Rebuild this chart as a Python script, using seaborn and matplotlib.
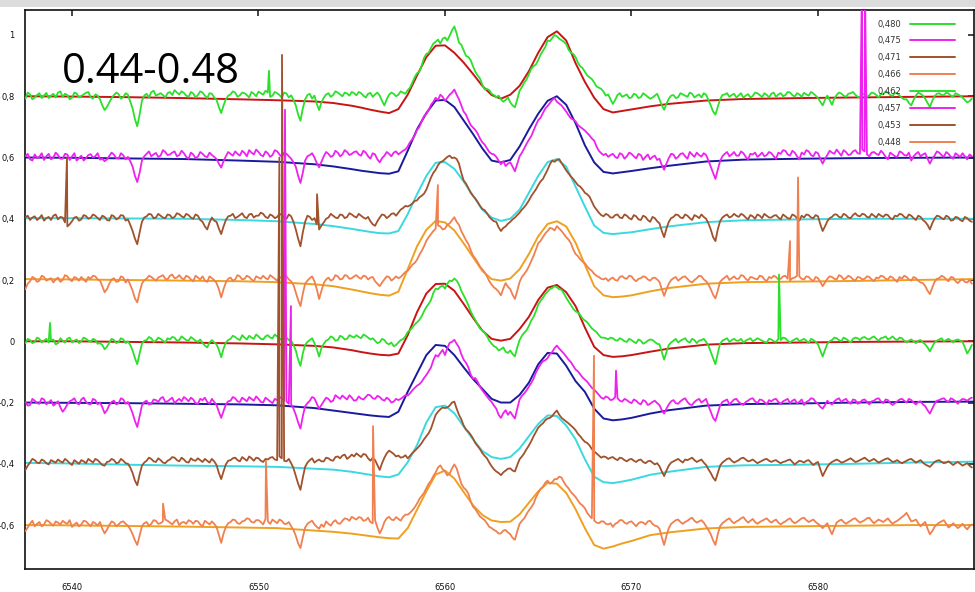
import numpy as np
import pandas as pd
import matplotlib
matplotlib.use("Agg")
import matplotlib.pyplot as plt
from matplotlib.lines import Line2D
from matplotlib.patches import Rectangle
import seaborn as sns

# ---------------- data ----------------
LABELS = ["0,480", "0,475", "0,471", "0,466", "0,462", "0,457", "0,453", "0,448"]
OFFSETS = [0.8, 0.6, 0.4, 0.2, 0.0, -0.2, -0.4, -0.6]
OBS_COLORS = ["#2be02b", "#ee22ee", "#a0522d", "#f08050",
              "#2be02b", "#ee22ee", "#a0522d", "#f08050"]
MOD_COLORS = ["#c81414", "#1a1a9c", "#3ad8e0", "#f0a020",
              "#c81414", "#1a1a9c", "#3ad8e0", "#f0a020"]

X_TICKS = [6540, 6550, 6560, 6570, 6580]
Y_TICKS = [-0.6, -0.4, -0.2, 0, 0.2, 0.4, 0.6, 0.8, 1]
Y_TICK_LABELS = ["-0,6", "-0,4", "-0,2", "0", "0,2", "0,4", "0,6", "0,8", "1"]

# observed spectra: samples every 0.25 A from 6537.5 A, plus the samples lying
# halfway between them (from 6537.625 A); flux relative to the stacking offset
OBS_WAVE = np.arange(6537.5, 6588.3, 0.25)
MID_WAVE = np.arange(6537.625, 6588.2, 0.25)

OBS_480 = [
    -0.008, 0.006, -0.004, 0.010, 0.002, -0.006, 0.008, 0.012, -0.002, 0.004, -0.005, 0.009, 0.001, 0.011, -0.003, 0.006, -0.010, -0.045, -0.020, 0.004,
    0.007, -0.003, 0.005, -0.040, -0.098, -0.015, 0.008, 0.013, 0.002, 0.010, -0.004, 0.014, 0.020, 0.006, 0.011, -0.002, 0.009, 0.004, 0.012, -0.006,
    0.008, -0.012, -0.055, -0.010, 0.006, 0.012, 0.003, 0.010, -0.004, 0.008, 0.015, 0.005, 0.012, 0.002, 0.010, -0.005, 0.009, 0.003, -0.030, -0.080,
    -0.010, 0.008, 0.002, -0.045, -0.005, 0.010, 0.004, 0.012, 0.000, 0.009, 0.014, 0.003, 0.010, -0.004, 0.011, 0.006, 0.002, -0.030, 0.005, 0.008,
    0.005, 0.012, 0.020, 0.045, 0.075, 0.100, 0.138, 0.158, 0.178, 0.172, 0.192, 0.198, 0.228, 0.175, 0.150, 0.128, 0.098, 0.068, 0.038, 0.024,
    0.008, -0.004, -0.010, -0.012, -0.020, -0.036, 0.018, 0.045, 0.072, 0.098, 0.118, 0.148, 0.182, 0.190, 0.196, 0.183, 0.170, 0.142, 0.128, 0.098,
    0.080, 0.062, 0.045, 0.028, 0.015, 0.006, -0.025, 0.004, -0.002, 0.006, -0.004, 0.005, -0.003, 0.004, -0.008, 0.002, -0.010, -0.044, -0.008, 0.004,
    -0.003, 0.006, -0.002, 0.008, 0.002, -0.004, 0.005, -0.030, -0.060, -0.010, 0.006, -0.002, 0.008, 0.003, -0.005, 0.007, 0.001, 0.010, -0.003, 0.005,
    0.008, -0.002, 0.010, 0.004, 0.012, -0.001, 0.006, 0.011, 0.002, 0.009, -0.006, -0.030, 0.002, -0.028, 0.004, 0.009, -0.002, 0.010, 0.005, -0.003,
    0.008, 0.003, 0.010, -0.004, 0.006, 0.012, 0.001, 0.009, -0.005, -0.010, -0.030, 0.002, 0.008, -0.008, -0.035, 0.000, 0.010, 0.004, 0.009, -0.002,
    0.006, -0.004, -0.020, -0.008]
MID_480 = [
    0.012, -0.010, 0.004, -0.006, 0.011, 0.002, -0.004, 0.016, 0.008, -0.010, 0.012, -0.004, 0.006, 0.014, -0.008, 0.002, -0.030, -0.035, -0.006, 0.012,
    -0.008, 0.010, -0.018, -0.075, -0.060, 0.002, -0.004, 0.018, 0.006, 0.004, 0.010, 0.004, 0.012, 0.016, 0.002, 0.014, -0.004, 0.016, 0.002, 0.010,
    -0.004, -0.035, -0.030, 0.002, 0.016, -0.002, 0.012, 0.004, 0.014, 0.000, 0.010, 0.018, -0.002, 0.014, 0.004, 0.012, -0.004, -0.012, -0.060, -0.040,
    0.004, -0.008, -0.025, -0.020, 0.006, -0.002, 0.016, 0.006, 0.012, 0.002, 0.010, 0.014, 0.002, 0.008, -0.002, 0.012, -0.015, -0.010, 0.012, 0.000,
    0.016, 0.008, 0.028, 0.062, 0.080, 0.125, 0.142, 0.172, 0.185, 0.188, 0.182, 0.215, 0.205, 0.168, 0.132, 0.118, 0.080, 0.058, 0.022, 0.020,
    0.004, 0.002, -0.018, -0.004, -0.030, -0.010, 0.030, 0.055, 0.090, 0.104, 0.136, 0.160, 0.180, 0.200, 0.188, 0.178, 0.152, 0.138, 0.110, 0.092,
    0.068, 0.056, 0.032, 0.024, 0.002, -0.010, -0.012, 0.010, 0.002, -0.006, 0.008, -0.006, 0.010, -0.002, -0.004, 0.008, -0.030, -0.025, 0.002, -0.006,
    0.010, 0.002, 0.012, -0.004, 0.006, 0.010, -0.012, -0.050, -0.035, 0.004, 0.010, 0.004, -0.004, 0.010, 0.002, -0.004, 0.012, 0.004, 0.010, -0.004,
    0.012, 0.006, 0.000, 0.014, 0.004, 0.010, -0.002, 0.006, 0.014, 0.002, -0.018, -0.012, -0.012, -0.008, 0.012, 0.002, 0.008, 0.014, -0.002, 0.006,
    -0.002, 0.012, 0.004, 0.008, 0.016, 0.004, 0.012, 0.002, -0.010, -0.022, -0.012, 0.012, 0.002, -0.022, -0.015, 0.008, 0.004, 0.012, 0.002, 0.010,
    0.002, -0.012, -0.016]

OBS_475 = [
    0.004, -0.006, 0.010, 0.002, -0.008, 0.012, 0.000, 0.008, -0.004, 0.010, 0.003, -0.010, 0.006, -0.002, 0.011, 0.004, -0.007, -0.012, 0.005, 0.009,
    -0.003, 0.007, 0.002, -0.030, -0.080, -0.010, 0.012, 0.004, 0.015, 0.006, 0.018, 0.010, 0.020, 0.008, 0.014, -0.004, 0.010, 0.003, 0.012, 0.001,
    0.008, -0.005, -0.033, 0.004, 0.012, 0.020, 0.006, 0.015, 0.024, 0.010, 0.018, 0.004, 0.014, 0.008, 0.020, 0.002, 0.012, -0.004, -0.030, -0.083,
    -0.010, 0.008, 0.000, -0.032, 0.004, 0.012, 0.006, 0.016, 0.010, 0.018, 0.012, 0.020, 0.006, 0.016, -0.004, 0.010, -0.016, 0.006, 0.012, 0.016,
    0.010, 0.022, 0.036, 0.060, 0.090, 0.118, 0.142, 0.172, 0.195, 0.205, 0.185, 0.205, 0.222, 0.190, 0.150, 0.122, 0.098, 0.078, 0.050, 0.030,
    0.012, 0.002, -0.022, -0.028, -0.016, -0.045, 0.004, 0.030, 0.058, 0.088, 0.122, 0.145, 0.168, 0.188, 0.182, 0.170, 0.150, 0.128, 0.118, 0.100,
    0.088, 0.072, 0.055, 0.022, 0.008, 0.002, 0.012, -0.002, 0.010, 0.004, 0.012, -0.003, 0.008, 0.002, -0.006, 0.006, -0.004, -0.040, -0.002, 0.010,
    0.002, 0.014, -0.004, 0.010, 0.016, 0.003, 0.008, -0.030, -0.070, -0.012, 0.012, 0.004, 0.018, 0.006, 0.014, -0.006, 0.010, 0.002, 0.016, 0.008,
    0.014, -0.004, 0.012, 0.022, 0.006, 0.016, -0.006, 0.010, 0.020, 0.004, 0.014, -0.020, 0.008, 0.016, 0.026, 0.006, 0.018, 0.010, 0.024, 0.012,
    0.020, 0.004, 0.018, 0.008, 0.014, -0.006, 0.010, 0.002, 0.016, 0.006, -0.010, 0.012, 0.004, 0.014, -0.020, 0.006, 0.016, 0.002, 0.012, -0.004,
    0.008, 0.014, -0.006, 0.004]
MID_475 = [
    0.012, -0.010, -0.002, 0.014, 0.004, -0.006, 0.016, -0.004, 0.012, -0.008, 0.014, -0.002, -0.010, 0.008, 0.000, 0.014, -0.004, -0.006, 0.016, -0.002,
    0.014, -0.006, -0.012, -0.060, -0.050, 0.004, 0.020, 0.010, 0.002, 0.024, 0.008, 0.016, 0.004, 0.022, 0.002, 0.016, -0.002, 0.018, 0.004, 0.016,
    0.002, -0.020, -0.012, 0.018, 0.006, 0.012, 0.022, 0.004, 0.016, 0.026, 0.008, 0.020, 0.002, 0.024, 0.010, 0.016, 0.004, -0.016, -0.060, -0.050,
    0.004, 0.014, -0.018, -0.014, 0.018, 0.002, 0.022, 0.004, 0.024, 0.008, 0.018, 0.010, 0.022, 0.004, 0.014, -0.006, -0.002, 0.018, 0.004, 0.020,
    0.016, 0.026, 0.050, 0.072, 0.100, 0.135, 0.155, 0.182, 0.188, 0.198, 0.195, 0.212, 0.205, 0.170, 0.140, 0.106, 0.090, 0.062, 0.042, 0.018,
    0.010, -0.010, -0.012, -0.020, -0.030, -0.020, 0.016, 0.045, 0.070, 0.106, 0.130, 0.160, 0.178, 0.194, 0.176, 0.160, 0.138, 0.124, 0.106, 0.094,
    0.080, 0.062, 0.036, 0.014, 0.012, 0.008, 0.002, 0.014, -0.004, 0.016, 0.004, 0.012, -0.008, 0.010, 0.002, -0.008, -0.025, -0.020, 0.012, -0.004,
    0.012, 0.004, 0.018, 0.002, 0.008, 0.014, -0.010, -0.050, -0.040, 0.004, 0.018, 0.010, 0.006, 0.020, 0.002, 0.012, 0.016, 0.008, 0.004, 0.018,
    0.004, 0.016, 0.024, 0.010, 0.022, 0.004, 0.016, 0.024, 0.008, 0.018, -0.004, -0.004, 0.022, 0.012, 0.016, 0.024, 0.008, 0.020, 0.014, 0.026,
    0.010, 0.016, 0.012, 0.022, 0.002, 0.016, 0.004, 0.020, 0.008, 0.016, 0.004, 0.018, 0.010, -0.004, -0.004, 0.020, 0.008, 0.018, 0.002, 0.014,
    0.002, 0.004, 0.010]

OBS_471 = [
    0.004, -0.004, 0.008, 0.002, -0.006, 0.006, 0.010, -0.002, 0.004, -0.025, -0.008, 0.006, -0.002, 0.009, 0.003, 0.010, -0.004, 0.006, -0.006, 0.008,
    0.002, 0.010, -0.002, -0.040, -0.083, -0.010, 0.008, 0.014, 0.004, 0.010, 0.002, 0.012, 0.006, 0.015, 0.004, 0.012, 0.000, 0.010, -0.010, -0.035,
    0.004, -0.010, -0.050, -0.004, 0.010, 0.002, 0.012, 0.006, 0.014, 0.004, 0.010, 0.016, 0.002, 0.010, 0.006, 0.012, 0.000, 0.008, -0.035, -0.090,
    -0.010, 0.006, 0.002, -0.035, -0.012, 0.004, 0.010, 0.002, 0.012, 0.006, 0.014, 0.004, 0.010, 0.000, -0.008, -0.023, 0.004, 0.012, 0.008, 0.018,
    0.020, 0.035, 0.040, 0.050, 0.060, 0.075, 0.095, 0.135, 0.160, 0.185, 0.195, 0.206, 0.200, 0.180, 0.125, 0.100, 0.075, 0.055, 0.032, 0.018,
    -0.002, -0.010, -0.040, -0.025, -0.010, 0.004, 0.020, 0.038, 0.060, 0.085, 0.110, 0.130, 0.160, 0.190, 0.192, 0.182, 0.158, 0.138, 0.120, 0.105,
    0.085, 0.072, 0.040, 0.020, 0.008, 0.012, 0.004, 0.014, 0.002, 0.010, -0.002, 0.008, -0.004, 0.006, -0.010, 0.002, -0.015, -0.060, -0.010, 0.006,
    0.012, 0.002, 0.010, -0.004, 0.008, 0.014, 0.000, -0.035, -0.073, -0.008, 0.010, 0.004, 0.016, 0.006, 0.012, -0.002, 0.008, 0.014, 0.002, 0.010,
    0.004, 0.012, -0.002, 0.008, 0.000, 0.010, -0.006, 0.004, 0.012, 0.002, 0.008, -0.040, -0.008, 0.006, 0.014, 0.004, 0.012, 0.002, 0.018, 0.008,
    0.014, 0.004, 0.010, 0.016, 0.006, 0.012, -0.002, 0.008, 0.014, 0.002, 0.010, -0.004, 0.006, -0.010, -0.035, 0.000, 0.008, -0.002, 0.006, -0.004,
    0.004, -0.008, 0.002, -0.010]
MID_471 = [
    0.010, 0.004, -0.004, 0.012, 0.002, -0.004, 0.014, 0.006, -0.012, -0.018, 0.004, -0.006, 0.012, 0.000, 0.014, 0.002, 0.010, -0.004, 0.012, -0.002,
    0.012, -0.006, -0.020, -0.065, -0.045, 0.004, 0.016, 0.002, 0.016, 0.004, 0.014, 0.002, 0.018, 0.008, 0.016, 0.004, 0.014, -0.004, -0.025, -0.012,
    -0.006, -0.032, -0.025, 0.008, 0.016, 0.006, 0.018, 0.002, 0.016, 0.010, 0.020, 0.006, 0.014, 0.002, 0.016, 0.004, 0.014, -0.010, -0.065, -0.045,
    0.010, -0.004, -0.018, -0.022, 0.000, 0.016, 0.004, 0.014, 0.002, 0.018, 0.008, 0.016, 0.004, 0.006, -0.018, -0.008, 0.014, 0.002, 0.016, 0.010,
    0.030, 0.042, 0.044, 0.058, 0.070, 0.082, 0.115, 0.150, 0.175, 0.188, 0.202, 0.198, 0.195, 0.150, 0.115, 0.085, 0.066, 0.042, 0.028, 0.006,
    -0.008, -0.028, -0.030, -0.016, -0.002, 0.012, 0.030, 0.048, 0.074, 0.096, 0.122, 0.145, 0.178, 0.186, 0.195, 0.170, 0.148, 0.130, 0.110, 0.096,
    0.080, 0.056, 0.030, 0.012, 0.016, 0.004, 0.012, 0.004, 0.014, 0.002, 0.012, -0.002, 0.010, -0.004, 0.006, -0.008, -0.040, -0.032, 0.002, 0.014,
    0.004, 0.014, 0.002, 0.012, 0.002, 0.006, -0.015, -0.060, -0.035, 0.004, 0.014, 0.008, 0.010, 0.016, 0.004, 0.012, 0.000, 0.010, 0.016, 0.004,
    0.010, 0.004, 0.014, 0.002, 0.014, 0.002, 0.010, 0.014, 0.004, 0.012, -0.018, -0.025, 0.002, 0.014, 0.006, 0.016, 0.004, 0.012, 0.010, 0.016,
    0.006, 0.016, 0.004, 0.010, 0.014, 0.002, 0.010, 0.016, 0.006, 0.014, 0.002, 0.010, -0.004, -0.020, -0.015, 0.010, 0.002, 0.010, -0.006, 0.006,
    -0.004, 0.006, -0.006]

OBS_466 = [
    -0.030, -0.004, 0.006, -0.002, 0.010, 0.002, -0.008, 0.008, 0.000, 0.012, -0.004, 0.006, 0.010, -0.006, 0.004, 0.012, -0.002, -0.040, -0.012, 0.006,
    -0.004, 0.008, 0.002, -0.035, -0.073, -0.012, 0.004, 0.010, -0.002, 0.012, 0.004, 0.014, 0.006, 0.016, 0.002, 0.010, -0.004, 0.008, 0.012, -0.006,
    0.006, -0.010, -0.057, -0.008, 0.008, 0.002, 0.012, 0.004, 0.010, -0.004, 0.008, 0.014, 0.002, 0.010, -0.002, 0.006, 0.012, -0.004, -0.040, -0.085,
    -0.012, 0.006, -0.004, -0.062, -0.010, 0.008, 0.002, 0.012, 0.004, 0.014, 0.006, 0.016, 0.004, 0.012, 0.008, -0.004, -0.020, 0.002, 0.010, 0.004,
    0.006, 0.018, 0.030, 0.050, 0.066, 0.095, 0.128, 0.150, 0.168, 0.175, 0.168, 0.185, 0.205, 0.180, 0.145, 0.118, 0.080, 0.058, 0.035, 0.012,
    -0.015, -0.030, -0.050, -0.010, -0.030, -0.062, -0.006, 0.020, 0.045, 0.079, 0.120, 0.140, 0.160, 0.168, 0.176, 0.160, 0.140, 0.120, 0.085, 0.068,
    0.055, 0.036, 0.020, 0.010, 0.002, -0.003, 0.008, -0.002, 0.013, 0.004, 0.012, -0.004, 0.006, 0.010, -0.002, 0.008, -0.006, -0.052, -0.012, 0.006,
    -0.002, 0.010, 0.004, -0.008, 0.006, 0.012, -0.004, -0.030, -0.060, -0.006, 0.008, 0.000, 0.012, 0.004, 0.014, -0.002, 0.008, 0.002, 0.012, -0.004,
    0.006, 0.010, 0.004, 0.014, -0.002, 0.008, 0.012, 0.002, 0.010, -0.004, 0.006, -0.020, 0.004, 0.010, 0.002, 0.012, 0.006, 0.010, -0.002, 0.008,
    0.004, 0.010, -0.004, 0.006, 0.012, 0.002, 0.008, -0.006, 0.004, 0.010, -0.002, 0.006, -0.008, -0.020, -0.046, -0.006, 0.006, 0.010, -0.004, 0.008,
    -0.010, 0.002, -0.008, -0.012]
MID_466 = [
    -0.012, 0.010, -0.006, 0.014, -0.002, 0.006, 0.002, -0.006, 0.016, 0.002, 0.010, -0.002, 0.002, 0.010, 0.014, 0.002, -0.020, -0.030, 0.002, -0.006,
    0.012, -0.008, -0.016, -0.060, -0.040, 0.000, 0.014, 0.004, 0.008, 0.016, 0.002, 0.018, 0.008, 0.006, 0.014, 0.002, 0.014, 0.002, -0.002, 0.012,
    0.000, -0.030, -0.030, 0.004, -0.002, 0.016, 0.002, 0.014, 0.002, 0.012, 0.004, 0.006, 0.016, 0.004, 0.010, 0.016, 0.002, -0.016, -0.065, -0.045,
    -0.002, 0.012, -0.030, -0.035, 0.002, -0.002, 0.016, 0.002, 0.016, 0.004, 0.012, 0.008, 0.014, 0.002, 0.010, -0.012, -0.008, 0.012, -0.002, 0.012,
    0.010, 0.026, 0.040, 0.056, 0.082, 0.110, 0.140, 0.160, 0.178, 0.165, 0.180, 0.195, 0.190, 0.160, 0.130, 0.098, 0.070, 0.044, 0.025, -0.004,
    -0.024, -0.038, -0.028, -0.022, -0.048, -0.035, 0.010, 0.030, 0.062, 0.100, 0.128, 0.152, 0.170, 0.162, 0.168, 0.150, 0.132, 0.100, 0.078, 0.060,
    0.044, 0.030, 0.014, 0.004, 0.006, 0.004, 0.000, 0.010, 0.006, 0.014, 0.002, 0.004, 0.012, 0.002, 0.006, 0.002, -0.030, -0.030, 0.000, 0.010,
    0.004, 0.012, -0.004, 0.000, 0.014, 0.002, -0.014, -0.048, -0.035, 0.002, 0.014, 0.006, 0.004, 0.016, 0.004, 0.010, 0.004, 0.014, 0.002, 0.010,
    0.014, 0.002, 0.012, 0.004, 0.006, 0.014, 0.004, 0.012, 0.002, 0.010, -0.006, -0.008, 0.012, 0.004, 0.016, 0.002, 0.014, 0.002, 0.010, 0.002,
    0.012, 0.002, 0.008, 0.014, 0.004, 0.012, 0.000, 0.010, 0.014, 0.002, 0.010, -0.002, -0.010, -0.035, -0.025, 0.004, 0.014, 0.002, 0.010, -0.004,
    -0.002, -0.006, 0.000]

OBS_462 = [
    -0.006, 0.004, -0.002, 0.008, 0.002, -0.004, 0.006, -0.006, 0.002, 0.008, -0.004, 0.006, 0.000, 0.008, -0.002, 0.004, -0.006, -0.026, -0.004, 0.004,
    -0.002, 0.006, 0.000, -0.030, -0.075, -0.008, 0.004, 0.010, 0.002, 0.008, -0.004, 0.006, 0.012, 0.004, 0.010, 0.002, 0.008, -0.002, -0.006, -0.020,
    0.004, -0.010, -0.052, -0.004, 0.008, 0.014, 0.004, 0.012, 0.018, 0.008, 0.016, 0.006, 0.020, 0.010, 0.016, 0.006, 0.012, 0.002, -0.030, -0.080,
    -0.012, 0.004, -0.006, -0.050, -0.008, 0.006, 0.012, 0.004, 0.014, 0.008, 0.016, 0.020, 0.010, 0.018, 0.006, 0.002, -0.003, 0.004, -0.010, -0.016,
    -0.004, 0.007, 0.030, 0.045, 0.062, 0.082, 0.112, 0.135, 0.172, 0.178, 0.172, 0.198, 0.205, 0.185, 0.150, 0.118, 0.083, 0.055, 0.035, 0.017,
    -0.008, -0.020, -0.026, -0.034, -0.030, -0.049, 0.004, 0.028, 0.050, 0.080, 0.120, 0.142, 0.162, 0.174, 0.176, 0.168, 0.142, 0.118, 0.098, 0.086,
    0.068, 0.052, 0.036, 0.020, 0.012, 0.006, 0.010, 0.002, 0.006, -0.002, 0.004, -0.006, 0.002, -0.004, 0.006, -0.002, -0.010, -0.060, -0.012, 0.002,
    -0.004, 0.006, 0.000, 0.008, -0.006, 0.004, -0.002, -0.035, -0.075, -0.008, 0.006, -0.002, 0.008, 0.002, -0.004, 0.006, 0.000, 0.010, 0.002, -0.004,
    0.006, -0.002, 0.004, 0.010, -0.004, 0.006, 0.000, 0.008, -0.006, 0.004, -0.010, -0.050, -0.008, 0.004, 0.010, 0.000, 0.008, -0.004, 0.012, 0.004,
    0.014, 0.006, 0.016, 0.002, 0.012, 0.006, 0.016, 0.004, 0.010, -0.004, 0.006, -0.006, 0.004, -0.010, -0.033, -0.004, 0.006, 0.000, 0.008, -0.004,
    0.006, -0.002, -0.040, -0.012]
MID_462 = [
    0.008, -0.006, 0.012, -0.004, 0.008, 0.002, -0.010, 0.010, -0.004, 0.012, 0.002, -0.006, 0.012, 0.002, 0.008, -0.008, -0.012, -0.018, 0.008, -0.006,
    0.010, -0.006, -0.012, -0.055, -0.040, 0.002, 0.014, -0.002, 0.012, 0.002, 0.010, 0.014, 0.002, 0.016, 0.004, 0.014, 0.002, 0.006, -0.014, -0.004,
    -0.004, -0.028, -0.024, 0.004, 0.018, 0.008, 0.020, 0.006, 0.012, 0.022, 0.008, 0.016, 0.012, 0.022, 0.008, 0.018, 0.004, -0.012, -0.060, -0.040,
    -0.002, 0.010, -0.025, -0.022, 0.002, 0.016, 0.002, 0.018, 0.006, 0.020, 0.012, 0.014, 0.022, 0.012, 0.010, -0.006, 0.008, -0.006, -0.004, -0.012,
    0.004, 0.016, 0.036, 0.055, 0.070, 0.098, 0.122, 0.158, 0.170, 0.182, 0.188, 0.196, 0.198, 0.165, 0.135, 0.098, 0.070, 0.042, 0.028, 0.002,
    -0.016, -0.030, -0.020, -0.038, -0.042, -0.020, 0.018, 0.036, 0.068, 0.098, 0.132, 0.154, 0.170, 0.180, 0.170, 0.156, 0.130, 0.106, 0.094, 0.074,
    0.062, 0.042, 0.030, 0.012, 0.010, 0.012, 0.004, 0.010, 0.000, 0.008, -0.002, 0.006, -0.008, 0.002, 0.004, -0.008, -0.035, -0.035, -0.004, 0.008,
    0.002, 0.010, -0.004, 0.004, 0.002, 0.008, -0.014, -0.055, -0.040, 0.002, 0.010, 0.004, 0.002, 0.008, 0.002, 0.010, 0.004, 0.006, -0.002, 0.008,
    0.000, 0.008, 0.012, 0.002, 0.002, 0.010, 0.004, 0.002, 0.008, -0.002, -0.030, -0.028, 0.000, 0.012, 0.004, 0.012, 0.002, 0.008, 0.010, 0.012,
    0.008, 0.012, 0.008, 0.010, 0.016, 0.010, 0.008, 0.012, 0.002, 0.002, 0.000, 0.002, -0.004, -0.020, -0.018, 0.002, 0.010, 0.004, 0.002, 0.004,
    0.002, -0.020, -0.028]

OBS_457 = [
    0.002, -0.008, 0.006, -0.004, 0.010, 0.000, -0.010, 0.004, -0.030, -0.006, 0.008, -0.002, 0.010, 0.002, -0.006, 0.008, 0.000, -0.035, -0.008, 0.006,
    -0.002, 0.010, 0.002, -0.035, -0.080, -0.010, 0.006, -0.004, 0.008, 0.014, 0.002, 0.010, -0.002, 0.012, 0.018, 0.004, 0.010, -0.004, 0.008, 0.002,
    0.012, -0.008, -0.050, -0.006, 0.006, 0.014, 0.002, 0.010, 0.018, 0.006, 0.012, 0.000, 0.010, -0.002, 0.008, 0.014, 0.004, -0.006, -0.040, -0.085,
    -0.012, 0.006, 0.014, -0.020, 0.004, 0.012, 0.006, 0.018, 0.023, 0.010, 0.016, 0.008, 0.013, 0.018, 0.023, 0.012, 0.018, 0.006, 0.010, 0.003,
    0.008, 0.018, 0.023, 0.040, 0.055, 0.068, 0.090, 0.115, 0.155, 0.162, 0.155, 0.195, 0.205, 0.180, 0.140, 0.115, 0.078, 0.068, 0.040, 0.020,
    0.002, -0.020, -0.050, -0.025, -0.030, -0.052, 0.010, 0.030, 0.052, 0.078, 0.112, 0.135, 0.145, 0.165, 0.186, 0.168, 0.150, 0.132, 0.108, 0.092,
    0.075, 0.058, 0.042, 0.025, 0.012, 0.016, 0.010, 0.014, 0.003, 0.008, -0.002, 0.006, -0.006, 0.004, -0.004, 0.006, -0.008, -0.036, -0.006, 0.008,
    -0.004, 0.010, 0.002, -0.008, 0.008, 0.000, 0.012, -0.030, -0.060, -0.010, 0.006, -0.006, 0.010, 0.002, -0.008, 0.006, 0.014, -0.002, 0.008, -0.006,
    0.004, 0.012, -0.004, 0.008, -0.002, 0.010, 0.002, -0.008, 0.006, 0.012, -0.004, -0.020, 0.006, -0.006, 0.010, 0.002, 0.012, -0.004, 0.008, 0.000,
    0.010, -0.006, 0.006, 0.014, -0.002, 0.008, -0.008, 0.004, 0.012, 0.000, 0.008, -0.006, 0.004, -0.012, -0.036, -0.004, 0.008, 0.014, 0.002, 0.010,
    -0.004, 0.012, 0.006, 0.016]
MID_457 = [
    -0.010, 0.012, -0.002, 0.014, -0.006, 0.008, -0.004, -0.015, -0.020, 0.004, 0.014, -0.006, 0.016, -0.004, 0.012, -0.006, -0.015, -0.025, 0.002, -0.006,
    0.014, -0.004, -0.015, -0.060, -0.045, 0.002, -0.006, 0.010, 0.002, 0.018, 0.004, 0.016, 0.006, 0.004, 0.012, 0.016, -0.002, 0.012, 0.016, -0.004,
    0.002, -0.030, -0.028, 0.004, 0.018, 0.004, 0.016, 0.004, 0.012, 0.020, 0.002, 0.016, 0.004, 0.012, 0.018, 0.006, -0.004, -0.020, -0.065, -0.045,
    -0.002, 0.018, -0.004, -0.008, 0.016, 0.002, 0.024, 0.012, 0.016, 0.024, 0.006, 0.020, 0.010, 0.026, 0.014, 0.022, 0.010, 0.016, 0.000, 0.012,
    0.012, 0.024, 0.030, 0.048, 0.060, 0.080, 0.102, 0.138, 0.150, 0.172, 0.178, 0.198, 0.192, 0.158, 0.130, 0.092, 0.080, 0.052, 0.030, 0.010,
    -0.010, -0.040, -0.035, -0.040, -0.042, -0.020, 0.022, 0.040, 0.064, 0.098, 0.125, 0.138, 0.158, 0.178, 0.176, 0.160, 0.140, 0.120, 0.102, 0.082,
    0.068, 0.048, 0.034, 0.016, 0.020, 0.008, 0.018, 0.006, 0.012, 0.002, 0.010, -0.002, 0.008, -0.008, 0.002, -0.002, -0.025, -0.020, 0.004, -0.002,
    0.004, 0.014, -0.006, 0.002, 0.012, 0.006, -0.010, -0.050, -0.035, 0.002, 0.010, 0.002, 0.012, -0.004, 0.002, 0.012, 0.004, 0.010, 0.002, 0.008,
    0.010, 0.002, 0.004, 0.012, 0.006, -0.002, 0.010, 0.002, 0.014, 0.002, -0.014, -0.008, -0.002, 0.004, 0.014, 0.008, 0.002, 0.010, -0.004, 0.008,
    0.002, 0.004, 0.012, 0.004, 0.010, -0.002, -0.002, 0.010, 0.006, 0.012, 0.000, 0.002, -0.006, -0.025, -0.020, 0.006, 0.012, 0.006, 0.014, 0.004,
    0.006, 0.010, 0.012]

OBS_453 = [
    -0.020, 0.004, 0.012, 0.002, 0.010, -0.002, 0.008, 0.014, 0.004, 0.010, -0.004, 0.006, 0.012, 0.002, 0.010, 0.016, 0.004, -0.006, 0.008, 0.012,
    0.004, 0.010, 0.000, -0.030, -0.070, -0.006, 0.010, 0.016, 0.006, 0.012, 0.002, 0.014, 0.020, 0.008, 0.014, 0.004, 0.012, 0.018, 0.006, 0.010,
    0.016, -0.004, -0.050, -0.002, 0.012, 0.020, 0.008, 0.016, 0.024, 0.010, 0.018, 0.006, 0.014, 0.022, 0.012, 0.018, 0.008, 0.002, -0.040, -0.085,
    -0.010, 0.012, 0.004, 0.014, 0.008, 0.018, 0.010, 0.024, 0.027, 0.016, 0.030, 0.034, 0.022, 0.030, 0.010, 0.012, -0.020, 0.020, 0.043, 0.032,
    0.027, 0.022, 0.018, 0.035, 0.050, 0.068, 0.090, 0.115, 0.160, 0.178, 0.182, 0.190, 0.203, 0.160, 0.125, 0.105, 0.083, 0.058, 0.035, 0.018,
    -0.008, -0.025, -0.037, -0.022, -0.015, -0.025, 0.015, 0.035, 0.060, 0.090, 0.118, 0.132, 0.148, 0.156, 0.174, 0.150, 0.138, 0.125, 0.110, 0.090,
    0.072, 0.060, 0.040, 0.027, 0.024, 0.016, 0.022, 0.012, 0.018, 0.008, 0.016, 0.006, 0.014, 0.002, 0.010, -0.002, -0.008, -0.040, -0.006, 0.008,
    0.016, 0.004, 0.012, 0.020, 0.006, 0.014, -0.004, -0.030, -0.055, -0.006, 0.010, 0.018, 0.004, 0.012, 0.020, 0.008, 0.014, 0.002, 0.010, 0.016,
    0.006, 0.012, 0.002, 0.008, 0.014, -0.002, 0.010, 0.004, 0.012, -0.004, 0.006, -0.040, -0.010, 0.006, 0.014, 0.004, 0.010, 0.018, 0.006, 0.012,
    0.020, 0.008, 0.016, 0.004, 0.012, 0.018, 0.006, 0.012, 0.002, 0.010, 0.016, 0.004, 0.012, -0.002, -0.010, 0.006, 0.012, 0.002, 0.008, -0.004,
    0.006, -0.006, 0.002, -0.012]
MID_453 = [
    -0.006, 0.016, 0.004, 0.014, 0.002, 0.012, 0.004, 0.008, 0.016, 0.002, 0.012, 0.000, 0.008, 0.016, 0.004, 0.012, -0.004, 0.006, 0.016, 0.002,
    0.016, 0.002, -0.012, -0.055, -0.035, 0.004, 0.020, 0.008, 0.018, 0.004, 0.010, 0.022, 0.012, 0.020, 0.006, 0.018, 0.010, 0.012, 0.016, 0.004,
    0.008, -0.030, -0.025, 0.010, 0.018, 0.012, 0.022, 0.010, 0.018, 0.020, 0.010, 0.016, 0.020, 0.014, 0.024, 0.010, 0.016, -0.014, -0.065, -0.045,
    0.004, 0.018, 0.010, 0.008, 0.020, 0.012, 0.022, 0.018, 0.030, 0.022, 0.024, 0.028, 0.032, 0.018, 0.020, -0.004, 0.002, 0.034, 0.038, 0.024,
    0.020, 0.028, 0.026, 0.042, 0.058, 0.080, 0.100, 0.138, 0.170, 0.184, 0.184, 0.200, 0.180, 0.145, 0.112, 0.095, 0.068, 0.048, 0.026, 0.004,
    -0.018, -0.030, -0.028, -0.016, -0.022, -0.004, 0.024, 0.048, 0.074, 0.104, 0.126, 0.142, 0.150, 0.166, 0.160, 0.144, 0.132, 0.118, 0.098, 0.080,
    0.068, 0.048, 0.034, 0.020, 0.022, 0.020, 0.016, 0.020, 0.012, 0.014, 0.010, 0.012, 0.006, 0.008, 0.004, 0.002, -0.025, -0.022, 0.004, 0.012,
    0.010, 0.014, 0.016, 0.012, 0.010, 0.004, -0.018, -0.045, -0.030, 0.004, 0.016, 0.010, 0.008, 0.018, 0.014, 0.010, 0.008, 0.006, 0.014, 0.010,
    0.010, 0.006, 0.006, 0.012, 0.006, 0.004, 0.008, 0.010, 0.004, 0.002, -0.018, -0.025, 0.000, 0.010, 0.010, 0.006, 0.014, 0.012, 0.008, 0.016,
    0.014, 0.012, 0.010, 0.008, 0.016, 0.012, 0.008, 0.006, 0.006, 0.014, 0.010, 0.008, 0.004, -0.006, -0.002, 0.010, 0.006, 0.004, 0.002, 0.002,
    0.000, -0.002, -0.006]

OBS_448 = [
    -0.020, 0.004, -0.004, 0.010, 0.002, 0.012, -0.002, 0.008, 0.014, 0.004, -0.006, 0.008, 0.002, 0.012, -0.004, 0.006, 0.010, -0.027, 0.000, 0.008,
    0.002, 0.012, -0.002, -0.030, -0.065, -0.004, 0.010, 0.004, 0.014, 0.006, 0.018, 0.008, 0.012, 0.000, 0.010, 0.016, 0.004, 0.012, -0.004, 0.008,
    0.012, -0.006, -0.058, -0.006, 0.010, 0.016, 0.004, 0.014, 0.020, 0.008, 0.016, 0.002, 0.012, 0.018, 0.006, 0.014, 0.004, -0.004, -0.035, -0.075,
    -0.008, 0.010, 0.002, -0.012, -0.006, 0.004, 0.010, 0.006, 0.014, 0.020, 0.027, 0.018, 0.024, 0.016, 0.010, 0.016, -0.027, 0.010, 0.027, 0.016,
    0.020, 0.027, 0.034, 0.048, 0.070, 0.095, 0.120, 0.145, 0.172, 0.195, 0.175, 0.168, 0.198, 0.160, 0.122, 0.103, 0.060, 0.040, 0.022, 0.006,
    -0.010, -0.020, -0.027, -0.016, -0.030, -0.048, 0.004, 0.022, 0.048, 0.070, 0.105, 0.125, 0.145, 0.140, 0.150, 0.155, 0.128, 0.108, 0.092, 0.070,
    0.055, 0.030, 0.015, 0.006, 0.012, 0.002, -0.006, 0.008, 0.016, 0.004, 0.012, -0.004, 0.010, 0.002, 0.014, -0.002, -0.012, -0.065, -0.010, 0.010,
    0.018, 0.004, 0.014, 0.024, 0.008, 0.016, -0.004, -0.030, -0.065, -0.004, 0.012, 0.022, 0.006, 0.016, 0.026, 0.008, 0.020, 0.004, 0.014, 0.022,
    0.008, 0.018, 0.002, 0.012, 0.022, 0.006, 0.016, 0.024, 0.010, 0.018, 0.004, -0.010, 0.006, -0.030, 0.008, 0.018, 0.004, 0.014, 0.022, 0.008,
    0.016, 0.024, 0.006, 0.018, 0.010, 0.022, 0.004, 0.014, 0.026, 0.040, 0.012, 0.018, -0.004, 0.010, -0.030, -0.006, 0.008, 0.016, -0.008, 0.006,
    -0.010, 0.004, -0.014, 0.002]
MID_448 = [
    -0.008, 0.014, 0.004, -0.004, 0.016, 0.004, 0.012, 0.002, 0.008, 0.016, 0.002, -0.004, 0.014, 0.004, 0.010, -0.002, -0.012, -0.015, 0.012, -0.004,
    0.010, 0.004, -0.014, -0.050, -0.035, 0.006, -0.002, 0.016, 0.004, 0.012, 0.014, 0.002, 0.018, 0.008, 0.004, 0.012, 0.014, 0.002, 0.014, 0.002,
    0.004, -0.032, -0.028, 0.006, 0.018, 0.006, 0.012, 0.022, 0.010, 0.016, 0.010, 0.020, 0.004, 0.012, 0.018, 0.004, 0.010, -0.016, -0.060, -0.040,
    0.004, 0.014, -0.006, 0.002, 0.012, -0.002, 0.016, 0.004, 0.022, 0.014, 0.022, 0.026, 0.014, 0.024, 0.006, -0.008, -0.012, 0.022, 0.018, 0.026,
    0.014, 0.034, 0.040, 0.058, 0.085, 0.105, 0.135, 0.160, 0.188, 0.182, 0.162, 0.185, 0.185, 0.135, 0.115, 0.078, 0.052, 0.028, 0.016, -0.006,
    -0.016, -0.028, -0.018, -0.024, -0.042, -0.020, 0.014, 0.036, 0.058, 0.090, 0.118, 0.138, 0.135, 0.150, 0.158, 0.140, 0.120, 0.100, 0.080, 0.064,
    0.040, 0.022, 0.008, 0.012, 0.004, 0.006, 0.004, 0.016, 0.008, 0.010, 0.004, 0.006, 0.008, 0.012, 0.004, -0.004, -0.040, -0.035, 0.004, 0.016,
    0.010, 0.010, 0.020, 0.014, 0.012, 0.008, -0.016, -0.050, -0.030, 0.006, 0.018, 0.012, 0.012, 0.022, 0.016, 0.014, 0.010, 0.010, 0.018, 0.014,
    0.014, 0.008, 0.008, 0.018, 0.012, 0.010, 0.022, 0.016, 0.014, 0.010, -0.002, -0.002, -0.014, -0.010, 0.014, 0.010, 0.010, 0.020, 0.014, 0.012,
    0.022, 0.014, 0.012, 0.014, 0.016, 0.012, 0.010, 0.020, 0.032, 0.026, 0.014, 0.006, 0.004, -0.012, -0.020, 0.002, 0.012, 0.004, -0.002, -0.002,
    -0.004, -0.006, -0.004]

OBS_FLUX = [OBS_480, OBS_475, OBS_471, OBS_466, OBS_462, OBS_457, OBS_453, OBS_448]
MID_FLUX = [MID_480, MID_475, MID_471, MID_466, MID_462, MID_457, MID_453, MID_448]

# narrow cosmic-ray spikes (wavelength, relative flux) of each observed spectrum
SPIKE_WAVE = [[6550.56], [6582.36, 6582.52], [6539.73, 6553.14],
              [6559.62, 6578.50, 6578.93], [6538.82, 6577.91],
              [6551.42, 6551.74, 6569.17], [6551.12, 6551.26],
              [6544.88, 6550.40, 6556.14, 6567.99]]
SPIKE_FLUX = [[0.083], [0.600, 0.550], [0.200, 0.080],
              [0.310, 0.127, 0.335], [0.060, 0.218],
              [0.956, 0.315, 0.104], [1.000, 1.335],
              [0.070, 0.210, 0.323, 0.553]]

# model profiles (relative flux) at these wavelengths
MODEL_WAVE = [6537.5, 6540, 6543, 6546, 6549, 6551, 6553, 6554, 6555, 6555.5, 6556, 6556.5,
              6557, 6557.5, 6558, 6558.5, 6559, 6559.5, 6560, 6560.5, 6561, 6561.5, 6562, 6562.5,
              6563, 6563.5, 6564, 6564.5, 6565, 6565.5, 6566, 6566.5, 6567, 6567.5, 6568, 6568.5,
              6569, 6569.5, 6570, 6571, 6572, 6574, 6576, 6579, 6582, 6585, 6588.4]

MOD_480 = [0.000, -0.001, -0.003, -0.006, -0.010, -0.013, -0.017, -0.022, -0.031, -0.037, -0.044, -0.050,
           -0.055, -0.042, 0.005, 0.068, 0.128, 0.165, 0.166, 0.142, 0.110, 0.073, 0.034, 0.004,
           -0.008, 0.005, 0.034, 0.082, 0.142, 0.193, 0.212, 0.182, 0.108, 0.047, -0.005, -0.042,
           -0.053, -0.048, -0.043, -0.033, -0.025, -0.014, -0.009, -0.006, -0.004, -0.002, 0.000]
MOD_475 = [0.000, -0.001, -0.003, -0.005, -0.010, -0.014, -0.022, -0.029, -0.038, -0.043, -0.047, -0.051,
           -0.053, -0.045, 0.022, 0.092, 0.145, 0.186, 0.188, 0.165, 0.121, 0.077, 0.030, -0.010,
           -0.016, -0.008, 0.036, 0.092, 0.143, 0.185, 0.200, 0.172, 0.112, 0.040, -0.016, -0.047,
           -0.052, -0.048, -0.044, -0.035, -0.027, -0.013, -0.007, -0.004, -0.002, -0.001, 0.000]
MOD_471 = [0.002, 0.002, 0.001, 0.000, -0.004, -0.008, -0.017, -0.024, -0.033, -0.038, -0.043, -0.047,
           -0.048, -0.040, 0.015, 0.080, 0.140, 0.183, 0.185, 0.163, 0.122, 0.076, 0.030, 0.004,
           -0.007, 0.000, 0.030, 0.085, 0.140, 0.185, 0.195, 0.170, 0.105, 0.040, -0.022, -0.046,
           -0.050, -0.047, -0.044, -0.034, -0.025, -0.011, -0.005, -0.002, 0.000, 0.000, 0.000]
MOD_466 = [0.003, 0.002, 0.000, -0.002, -0.004, -0.007, -0.014, -0.020, -0.031, -0.037, -0.043, -0.048,
           -0.051, -0.038, 0.035, 0.110, 0.164, 0.193, 0.188, 0.162, 0.120, 0.075, 0.030, 0.003,
           -0.002, 0.005, 0.035, 0.085, 0.143, 0.183, 0.192, 0.175, 0.122, 0.050, -0.020, -0.050,
           -0.056, -0.054, -0.050, -0.037, -0.026, -0.012, -0.007, -0.005, -0.003, 0.000, 0.003]
MOD_462 = [0.000, 0.000, -0.002, -0.004, -0.007, -0.010, -0.015, -0.020, -0.029, -0.035, -0.040, -0.044,
           -0.046, -0.040, 0.020, 0.095, 0.156, 0.187, 0.188, 0.165, 0.122, 0.077, 0.035, 0.008,
           0.002, 0.008, 0.040, 0.080, 0.135, 0.175, 0.184, 0.160, 0.115, 0.045, -0.018, -0.045,
           -0.051, -0.049, -0.045, -0.034, -0.024, -0.011, -0.006, -0.004, -0.002, -0.001, 0.000]
MOD_457 = [0.000, -0.001, -0.002, -0.004, -0.006, -0.009, -0.018, -0.026, -0.034, -0.038, -0.042, -0.045,
           -0.047, -0.030, 0.035, 0.095, 0.155, 0.188, 0.185, 0.155, 0.115, 0.077, 0.045, 0.012,
           0.000, 0.000, 0.025, 0.065, 0.125, 0.162, 0.160, 0.120, 0.070, 0.035, -0.020, -0.052,
           -0.058, -0.055, -0.050, -0.036, -0.025, -0.010, -0.005, -0.003, 0.000, 0.002, 0.003]
MOD_453 = [0.003, 0.001, -0.003, -0.006, -0.008, -0.010, -0.016, -0.019, -0.026, -0.031, -0.036, -0.041,
           -0.044, -0.035, 0.005, 0.061, 0.135, 0.185, 0.190, 0.165, 0.122, 0.080, 0.042, 0.022,
           0.016, 0.022, 0.050, 0.090, 0.130, 0.158, 0.156, 0.125, 0.080, 0.015, -0.042, -0.060,
           -0.063, -0.058, -0.052, -0.036, -0.026, -0.010, -0.005, -0.003, 0.000, 0.004, 0.007]
MOD_448 = [0.000, -0.001, -0.003, -0.005, -0.008, -0.010, -0.018, -0.022, -0.028, -0.032, -0.036, -0.040,
           -0.043, -0.044, -0.010, 0.050, 0.110, 0.165, 0.178, 0.152, 0.108, 0.065, 0.033, 0.015,
           0.010, 0.011, 0.035, 0.073, 0.110, 0.138, 0.135, 0.105, 0.052, -0.010, -0.065, -0.077,
           -0.070, -0.060, -0.052, -0.033, -0.024, -0.011, -0.006, -0.004, -0.002, 0.000, 0.000]
MOD_FLUX = [MOD_480, MOD_475, MOD_471, MOD_466, MOD_462, MOD_457, MOD_453, MOD_448]

BIG_LABEL = "0.44-0.48"

# ---------------- figure ----------------
sns.set_style("white")
plt.rcParams["font.family"] = ["DejaVu Sans"]

W, H = 975, 592
fig = plt.figure(figsize=(W / 100, H / 100), dpi=100)
fig.patch.set_facecolor("white")

ax = fig.add_axes([25 / W, 1 - 568.5 / H, 949 / W, 558.5 / H])
ax.set_facecolor("white")

for i in range(len(LABELS)):
    mdf = pd.DataFrame({"wave": MODEL_WAVE,
                        "flux": np.array(MOD_FLUX[i]) + OFFSETS[i]})
    sns.lineplot(data=mdf, x="wave", y="flux", ax=ax, color=MOD_COLORS[i],
                 linewidth=1.4, estimator=None, sort=False, zorder=2)

for i in range(len(LABELS)):
    odf = pd.DataFrame({
        "wave": np.concatenate([OBS_WAVE, MID_WAVE, SPIKE_WAVE[i]]),
        "flux": np.concatenate([OBS_FLUX[i], MID_FLUX[i], SPIKE_FLUX[i]]) + OFFSETS[i]})
    odf = odf.sort_values("wave")
    sns.lineplot(data=odf, x="wave", y="flux", ax=ax, color=OBS_COLORS[i],
                 linewidth=1.3, estimator=None, sort=False, zorder=3)

ax.set_xlim(6537.48, 6588.365)
ax.set_ylim(-0.7418, 1.0816)
ax.set_xticks(X_TICKS)
ax.set_xticklabels([str(t) for t in X_TICKS])
ax.set_yticks(Y_TICKS)
ax.set_yticklabels(Y_TICK_LABELS)
ax.set_xlabel("")
ax.set_ylabel("")
ax.tick_params(axis="both", direction="in", length=4.5, width=1.1, colors="#111111",
               top=True, right=True, labelsize=6)
ax.tick_params(axis="y", pad=7.5)
ax.tick_params(axis="x", pad=10.5)
for s in ax.spines.values():
    s.set_linewidth(1.2)
    s.set_color("#111111")
    s.set_visible(True)

handles = [Line2D([0], [0], color=c, linewidth=1.4) for c in OBS_COLORS]
leg = fig.legend(handles, LABELS, loc="upper left",
                 bbox_to_anchor=(877 / W, 1 - 19.5 / H), frameon=False,
                 markerfirst=False, fontsize=6, handlelength=5.4, handletextpad=1.1,
                 labelspacing=0.95, borderpad=0, borderaxespad=0)
for t in leg.get_texts():
    t.set_color("#333333")

fig.text(62 / W, 1 - 83 / H, BIG_LABEL, fontsize=30, family="Open Sans",
         ha="left", va="baseline", color="black")

# screenshot frame strip at top
fig.add_artist(Rectangle((0, 1 - 7 / H), 1, 7 / H, transform=fig.transFigure,
                         facecolor="#dcdcdc", edgecolor="none", zorder=0))

fig.savefig("out.png", dpi=100, facecolor="white")
